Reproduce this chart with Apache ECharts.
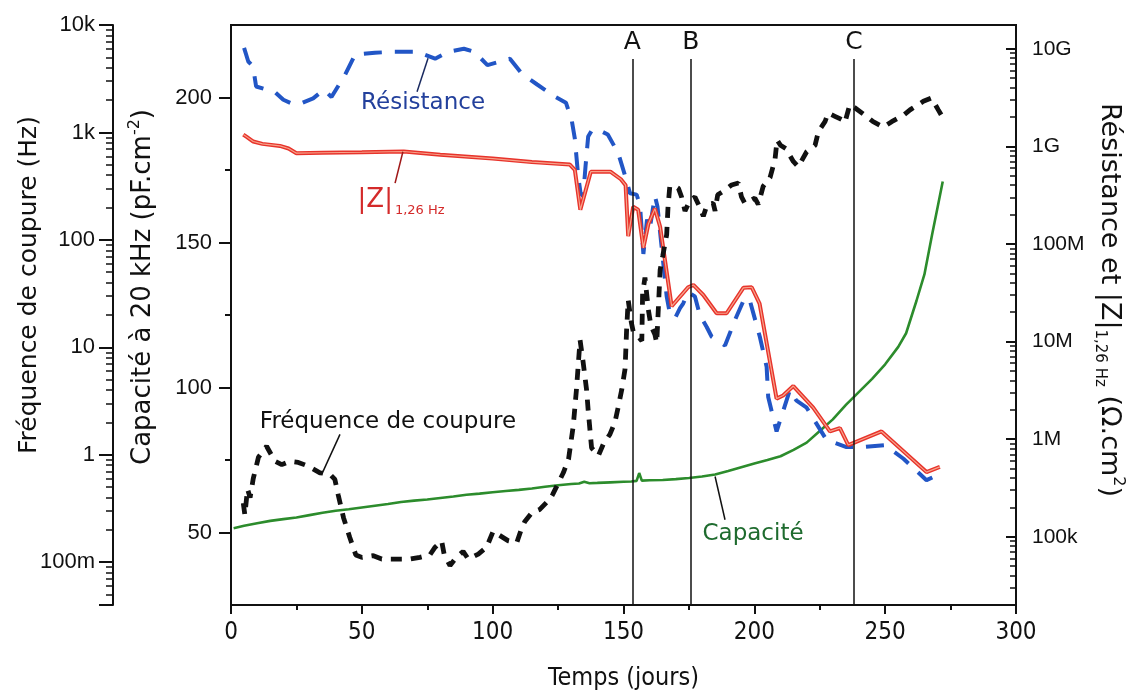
<!DOCTYPE html>
<html><head><meta charset="utf-8">
<script src="https://cdn.jsdelivr.net/npm/echarts@6/dist/echarts.min.js"></script>
<style>html,body{margin:0;padding:0;background:#fff}#c{width:1131px;height:694px}</style>
</head><body><div id="c"></div>
<script>
// ---------- data ----------
const capDays = [1,5,10,15,20,25,30,35,40,45,50,55,60,65,70,75,80,85,90,95,100,105,110,115,120,125,130,133,135,137,140,145,150,153,155,156,157,160,165,170,175,180,185,190,195,200,205,210,215,220,225,230,235,240,245,250,255,258,262,265,268,270,272];
const capVals = [51.5,52.3,53.2,54,54.6,55.2,56,56.8,57.5,58,58.6,59.2,59.8,60.5,61,61.4,61.9,62.4,63,63.4,63.9,64.3,64.7,65.2,65.8,66.3,66.7,66.9,67.5,67,67.1,67.3,67.5,67.6,67.8,70.5,67.9,68,68.1,68.4,68.8,69.3,70,71.2,72.5,73.8,75,76.3,78.5,81,85,89,94,98.5,103,108,114,118.7,130,139,153,162,171];

const zDays = [4.7,6,8.5,12,18.7,22,25,35,50,66,80,100,115,129.5,131.4,133.5,137.5,145,149,150.8,151.8,153.7,155.6,157.6,159.5,162,164,168.4,174.7,176.7,180.5,185.6,189.4,195.8,199,202,208.5,211,214.9,222.5,228.9,232.7,235.9,248.6,265.8,270.9];
const zVals = [1.32e9,1.25e9,1.12e9,1.06e9,1.01e9,9.5e8,8.5e8,8.6e8,8.7e8,8.85e8,8.2e8,7.5e8,6.9e8,6.5e8,5.75e8,2.24e8,5.5e8,5.5e8,4.6e8,4.0e8,1.2e8,2.4e8,2.24e8,9.1e7,1.6e8,2.3e8,1.5e8,2.3e7,3.6e7,3.8e7,3.0e7,1.95e7,1.95e7,3.55e7,3.6e7,2.45e7,2.6e6,2.8e6,3.5e6,2.1e6,1.2e6,1.3e6,8.7e5,1.2e6,4.6e5,5.2e5];

const rDays = [5,6.6,8.4,9.6,16.8,20,23.2,26,31.4,35.5,38.4,43.6,47.4,55,62,71,78,83,89,93,98,106.6,111,117,124,128,130.2,131.4,132.7,133.6,134.6,135.5,136.5,138,141,144,148,150.5,152.5,155,156.3,157.6,159,160,162,163,166.5,167.7,169.7,171.6,172.8,174.7,175.4,177.3,179.2,181.8,183.7,188.8,192.6,195.8,198,202.1,204.7,205.3,208.5,213.6,216,220,227.6,235.2,241.6,250,257,265.8,271.6];
const rVals = [1.02e10,7.4e9,6.6e9,4.1e9,3.6e9,3.0e9,2.75e9,2.7e9,3.1e9,3.8e9,3.2e9,5.4e9,8.7e9,9.1e9,9.3e9,9.3e9,7.9e9,9.3e9,1.0e10,9.3e9,6.8e9,7.9e9,5.6e9,4.3e9,3.2e9,2.8e9,1.86e9,1.2e9,4.9e8,3.3e8,3.1e8,6.3e8,1.26e9,1.48e9,1.45e9,1.32e9,8.5e8,5.1e8,3.3e8,3.2e8,2.5e8,7.9e7,1.78e8,1.41e8,3.1e8,2.4e8,2.9e7,1.95e7,1.74e7,2.2e7,2.45e7,3.2e7,3.1e7,2.9e7,1.86e7,1.41e7,1.12e7,9.1e6,1.66e7,2.6e7,2.8e7,1.12e7,5.5e6,2.7e6,1.2e6,3.2e6,2.5e6,2.1e6,9.8e5,8.3e5,8.3e5,8.7e5,6.3e5,3.8e5,4.5e5];

const fDays = [4.7,5.3,6.3,7.3,8.5,10.5,13.6,16.8,19.4,22.5,25.7,29.5,34,37.8,39.7,41,43,45.4,47.7,50,54.4,57.6,61.3,64.6,68.4,72.2,76,78,80.5,81.5,83.7,86,88.7,90.7,94.5,97.7,100.2,102,106,109.2,111,112.3,115,118,122,123,127,129,130.8,132,133.4,134.6,135.9,136.5,137.8,140.4,142.3,144.8,146.7,148,149.3,150.6,151.2,151.8,153,153.7,155.5,157,157.3,158.2,159.5,160.5,162,162.7,163.2,164,165,166.5,167,167.7,169.7,171,172.2,173.5,175.4,177.3,179.2,180.5,182,184.3,185,186,188,191.3,193.9,195.1,196.4,198,200.2,201.5,203.4,206,207.9,208.7,210,212,214.9,216.8,220,223.2,224.5,227,228.2,230.8,233.4,234.6,236.5,238.4,242.3,245.4,249.3,252.5,257,259.5,264.6,267.7,270.3,272.2];
const fVals = [0.355,0.275,0.48,0.40,0.60,0.95,1.2,0.87,0.81,0.87,0.85,0.785,0.68,0.66,0.59,0.42,0.26,0.17,0.117,0.111,0.115,0.107,0.107,0.107,0.107,0.111,0.117,0.138,0.158,0.117,0.093,0.11,0.126,0.107,0.119,0.138,0.195,0.182,0.158,0.152,0.204,0.24,0.29,0.31,0.39,0.43,0.68,0.91,1.86,4.0,11.7,7.2,4.0,2.6,1.16,0.98,1.26,1.55,2.0,2.8,4.0,6.3,14.8,27.5,17,14.1,12.6,11.5,31.6,44.7,22.4,15.8,13.2,11,20,52.5,70.8,112,200,316,316,302,251,186,234,251,200,166,214,219,186,263,282,324,339,251,219,229,245,214,316,380,562,851,759,708,537,479,661,759,1023,1259,1514,1413,1318,1230,1820,1698,1445,1259,1122,1259,1445,1622,1950,2089,1622,1349];

const eventDays = [153.4, 175.7, 238.1];
const eventNames = ['A', 'B', 'C'];

const capMajorTicks = [50, 100, 150, 200];
const capMinorTicks = [75, 125, 175];
const freqTickExps = [-1, 0, 1, 2, 3, 4];
const freqTickLabels = ['100m', '1', '10', '100', '1k', '10k'];
const resTickExps = [5, 6, 7, 8, 9, 10];
const resTickLabels = ['100k', '1M', '10M', '100M', '1G', '10G'];

// ---------- chart ----------
const FONT = 'DejaVu Sans';
const SANS = "'Liberation Sans', Arial, sans-serif";
const NARROW = "'Liberation Sans Narrow', 'Arial Narrow', 'DejaVu Sans Condensed', 'Liberation Sans'";
const INK = '#111';
const zip = (a, b) => a.map((v, i) => [v, b[i]]);
function logLabel(exps, labels) {
  return function (v) {
    const e = Math.log10(v), k = Math.round(e);
    if (Math.abs(e - k) > 1e-6) return '';
    const i = exps.indexOf(k);
    return i < 0 ? '' : labels[i];
  };
}
const axLine = { show: true, lineStyle: { color: INK, width: 2 } };
const txt = (size, color, fam) => ({ fontSize: size, color: color || INK, fontFamily: fam || FONT });
function textMark(coord, formatter, size, color, rich) {
  return {
    coord: coord, symbol: 'circle', symbolSize: 0.1,
    itemStyle: { color: 'rgba(0,0,0,0)' },
    label: Object.assign({ show: true, position: 'inside', formatter: formatter, rich: rich || {} }, txt(size, color))
  };
}
function seg(a, b) { return [{ coord: a }, { coord: b }]; }

const chart = echarts.init(document.getElementById('c'), null, { renderer: 'canvas' });
chart.setOption({
  animation: false,
  backgroundColor: '#fff',
  grid: { left: 231, right: 115, top: 25, bottom: 89, containLabel: false, outerBoundsMode: 'none',
    show: true, borderColor: INK, borderWidth: 2, backgroundColor: 'transparent' },
  xAxis: {
    type: 'value', min: 0, max: 300, interval: 50, position: 'bottom',
    axisLine: axLine,
    axisTick: { show: true, inside: false, length: 9, lineStyle: { color: INK, width: 2 } },
    minorTick: { show: true, splitNumber: 2, length: 5, lineStyle: { color: INK, width: 2 } },
    axisLabel: Object.assign({ margin: 16 }, txt(24, INK, NARROW)),
    splitLine: { show: false },
    name: 'Temps (jours)', nameLocation: 'middle', nameGap: 61, nameMoveOverlap: false,
    nameTextStyle: txt(25, INK, NARROW)
  },
  yAxis: [
    { // 0: capacité
      type: 'value', position: 'left', offset: 0, min: 25, max: 225,
      axisLine: axLine,
      axisTick: { show: true, inside: false, length: 12, customValues: capMajorTicks, lineStyle: { color: INK, width: 2 } },
      axisLabel: Object.assign({ margin: 19, customValues: capMajorTicks }, txt(22, INK, SANS)),
      splitLine: { show: false },
      name: 'Capacité à 20 kHz (pF.cm{sup|-2})', nameLocation: 'middle', nameGap: 72, nameMoveOverlap: false,
      nameTextStyle: Object.assign({ lineHeight: 32, padding: [0, 0, 0, 56],
        rich: { sup: Object.assign({ lineHeight: 16, verticalAlign: 'top' }, txt(16)) } }, txt(26))
    },
    { // 1: capacité minor ticks
      type: 'value', position: 'left', offset: 0, min: 25, max: 225,
      axisLine: { show: false },
      axisTick: { show: true, inside: false, length: 6, customValues: capMinorTicks, lineStyle: { color: INK, width: 2 } },
      axisLabel: { show: false }, splitLine: { show: false }
    },
    { // 2: fréquence (log)
      type: 'log', logBase: 10, position: 'left', offset: 118, min: 0.04, max: 1e4,
      axisLine: axLine,
      axisTick: { show: true, inside: false, length: 14, lineStyle: { color: INK, width: 2 } },
      minorTick: { show: true, splitNumber: 9, length: 7, lineStyle: { color: INK, width: 1.5 } },
      axisLabel: Object.assign({ margin: 18, formatter: logLabel(freqTickExps, freqTickLabels) }, txt(22, INK, SANS)),
      splitLine: { show: false }, minorSplitLine: { show: false },
      name: 'Fréquence de coupure (Hz)', nameLocation: 'middle', nameGap: 71, nameMoveOverlap: false,
      nameTextStyle: Object.assign({ padding: [0, 0, 0, 60] }, txt(25))
    },
    { // 3: résistance (log)
      type: 'log', logBase: 10, position: 'right', offset: 0, min: 2e4, max: 1.75e10,
      axisLine: axLine,
      axisTick: { show: true, inside: true, length: 10, lineStyle: { color: INK, width: 2 } },
      minorTick: { show: true, splitNumber: 9, length: 6, lineStyle: { color: INK, width: 1.5 } },
      axisLabel: Object.assign({ margin: 16, formatter: logLabel(resTickExps, resTickLabels) }, txt(21, INK, SANS)),
      splitLine: { show: false }, minorSplitLine: { show: false },
      name: 'Résistance et |Z|{sub|1,26 Hz} (Ω.cm{sup|2})', nameLocation: 'middle', nameGap: 76, nameRotate: -90,
      nameMoveOverlap: false,
      nameTextStyle: Object.assign({ lineHeight: 34, padding: [0, 30, 0, 0],
        rich: {
          sub: Object.assign({ lineHeight: 16, verticalAlign: 'bottom' }, txt(15)),
          sup: Object.assign({ lineHeight: 17, verticalAlign: 'top' }, txt(16))
        } }, txt(27))
    }
  ],
  series: [
    {
      name: 'Capacité', type: 'line', xAxisIndex: 0, yAxisIndex: 0,
      data: zip(capDays, capVals), showSymbol: false, symbol: 'none',
      lineStyle: { color: '#2c8c2c', width: 2.6 }, z: 2,
      markLine: {
        silent: true, symbol: ['none', 'none'], label: { show: false },
        lineStyle: { color: INK, width: 1.5, type: 'solid' },
        data: eventDays.map(d => seg([d, 25], [d, 213.3])).concat([seg([188.8, 54.4], [185, 69.3])])
      },
      markPoint: {
        silent: true,
        data: eventDays.map((d, i) => textMark([d, 218.8], eventNames[i], 25, INK))
          .concat([textMark([199.5, 49.6], 'Capacité', 23, '#1e6b2e')])
      }
    },
    {
      name: 'Résistance', type: 'line', xAxisIndex: 0, yAxisIndex: 3,
      data: zip(rDays, rVals), showSymbol: false, symbol: 'none',
      lineStyle: { color: '#2256c6', width: 4, type: [18, 13] }, z: 3,
      markLine: {
        silent: true, symbol: ['none', 'none'], label: { show: false },
        lineStyle: { color: '#1a2a60', width: 1.5, type: 'solid' },
        data: [seg([71.1, 3.62e9], [75.3, 8.0e9])]
      },
      markPoint: { silent: true, data: [textMark([73.4, 2.79e9], 'Résistance', 23, '#23409c')] }
    },
    {
      name: '|Z|', type: 'line', xAxisIndex: 0, yAxisIndex: 3,
      data: zip(zDays, zVals), showSymbol: false, symbol: 'none',
      lineStyle: { color: '#e8332b', width: 4 }, z: 4,
      markLine: {
        silent: true, symbol: ['none', 'none'], label: { show: false },
        lineStyle: { color: '#a01818', width: 1.5, type: 'solid' },
        data: [seg([62.7, 4.2e8], [65.7, 8.8e8])]
      },
      markPoint: {
        silent: true,
        data: [textMark([65, 2.83e8], '{a||Z|}{b|1,26 Hz}', 26, '#d42a2a', {
          a: Object.assign({ lineHeight: 34, verticalAlign: 'middle' }, txt(26, '#d42a2a')),
          b: Object.assign({ lineHeight: 14, verticalAlign: 'bottom', padding: [0, 0, 0, 2] }, txt(13, '#d42a2a'))
        })]
      }
    },
    {
      name: 'Fréquence', type: 'line', xAxisIndex: 0, yAxisIndex: 2,
      data: zip(fDays, fVals), showSymbol: false, symbol: 'none',
      lineStyle: { color: INK, width: 4.8, type: [11, 9] }, z: 5,
      markLine: {
        silent: true, symbol: ['none', 'none'], label: { show: false },
        lineStyle: { color: INK, width: 1.5, type: 'solid' },
        data: [seg([41.65, 1.55], [34.7, 0.66])]
      },
      markPoint: { silent: true, data: [textMark([60, 2.0], 'Fréquence de coupure', 23, INK)] }
    },
    {
      name: '|Z| core', type: 'line', xAxisIndex: 0, yAxisIndex: 3,
      data: zip(zDays, zVals), showSymbol: false, symbol: 'none',
      lineStyle: { color: '#f6a48c', width: 1.2 }, z: 4
    }
  ]
});
</script>
</body></html>
